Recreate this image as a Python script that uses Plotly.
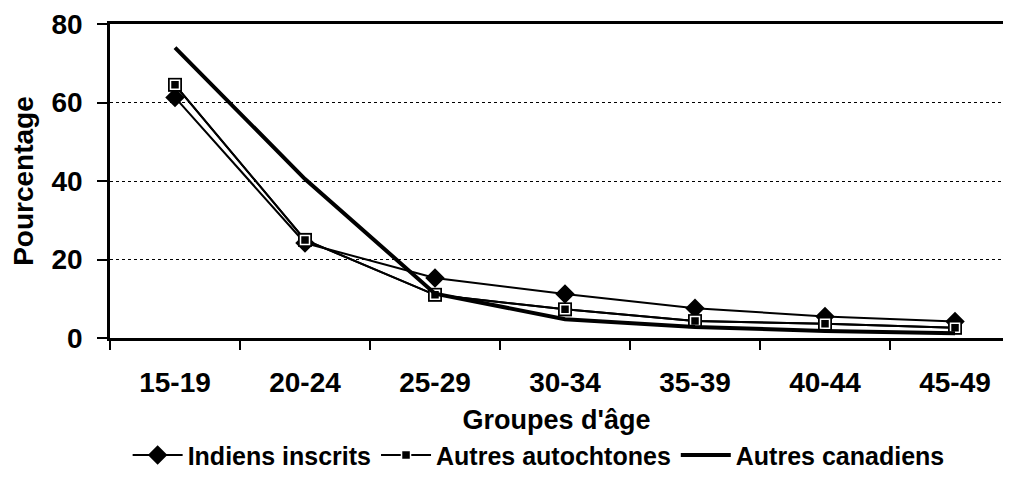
import plotly.graph_objects as go

categories = ["15-19", "20-24", "25-29", "30-34", "35-39", "40-44", "45-49"]
indiens_inscrits = [61.3, 24.2, 15.3, 11.2, 7.6, 5.5, 4.2]
autres_autochtones = [64.5, 25.0, 11.0, 7.3, 4.3, 3.6, 2.6]
autres_canadiens = [74.0, 40.5, 11.3, 4.8, 2.8, 1.8, 1.2]

FONT = "Arial, Liberation Sans, sans-serif"
FS = 28

fig = go.Figure()

fig.add_trace(go.Scatter(
    x=categories, y=indiens_inscrits, name="Indiens inscrits",
    mode="lines+markers",
    line=dict(color="black", width=2),
    marker=dict(symbol="diamond", size=15, color="black"),
))
# outer frame of square markers (not in legend)
fig.add_trace(go.Scatter(
    x=categories, y=autres_autochtones, name="Autres autochtones",
    mode="lines+markers", showlegend=False, hoverinfo="skip",
    line=dict(color="black", width=2),
    marker=dict(symbol="square", size=14, color="black"),
))
fig.add_trace(go.Scatter(
    x=categories, y=autres_autochtones, name="Autres autochtones",
    mode="lines+markers",
    line=dict(color="black", width=2),
    marker=dict(symbol="square", size=9, color="black",
                line=dict(color="white", width=1.5)),
))
fig.add_trace(go.Scatter(
    x=categories, y=autres_canadiens, name="Autres canadiens",
    mode="lines",
    line=dict(color="black", width=4),
))

fig.update_layout(
    width=995, height=463,
    margin=dict(l=102, r=0, t=16, b=133, autoexpand=False),
    paper_bgcolor="white", plot_bgcolor="white",
    font=dict(family=FONT, size=FS, color="black", weight="bold"),
    showlegend=True,
    legend=dict(orientation="h", x=0.48, xanchor="center", y=-0.447, yanchor="bottom",
                font=dict(size=25, weight="bold"), itemwidth=50,
                bgcolor="rgba(0,0,0,0)", tracegroupgap=0),
)

fig.update_xaxes(
    type="category", range=[-0.5, 6.369], automargin=False,
    showline=True, linecolor="black", linewidth=2.5, mirror=True,
    ticks="outside", ticklen=9, tickwidth=2, tickcolor="black",
    tickson="boundaries", showgrid=False,
    ticklabelstandoff=18,
    tickfont=dict(size=FS, weight="bold"),
    title=dict(text="Groupes d'âge", standoff=13, font=dict(size=27, weight="bold")),
)
fig.update_yaxes(
    range=[0, 80], dtick=20, automargin=False,
    showline=True, linecolor="black", linewidth=2.5,
    ticks="outside", ticklen=10, tickwidth=2, tickcolor="black",
    showgrid=True, gridcolor="black", gridwidth=1, griddash="dot",
    zeroline=False,
    ticklabelstandoff=9,
    tickfont=dict(size=FS, weight="bold"),
    title=dict(text="Pourcentage", standoff=11, font=dict(size=FS, weight="bold")),
)

fig.write_html("out.html")
